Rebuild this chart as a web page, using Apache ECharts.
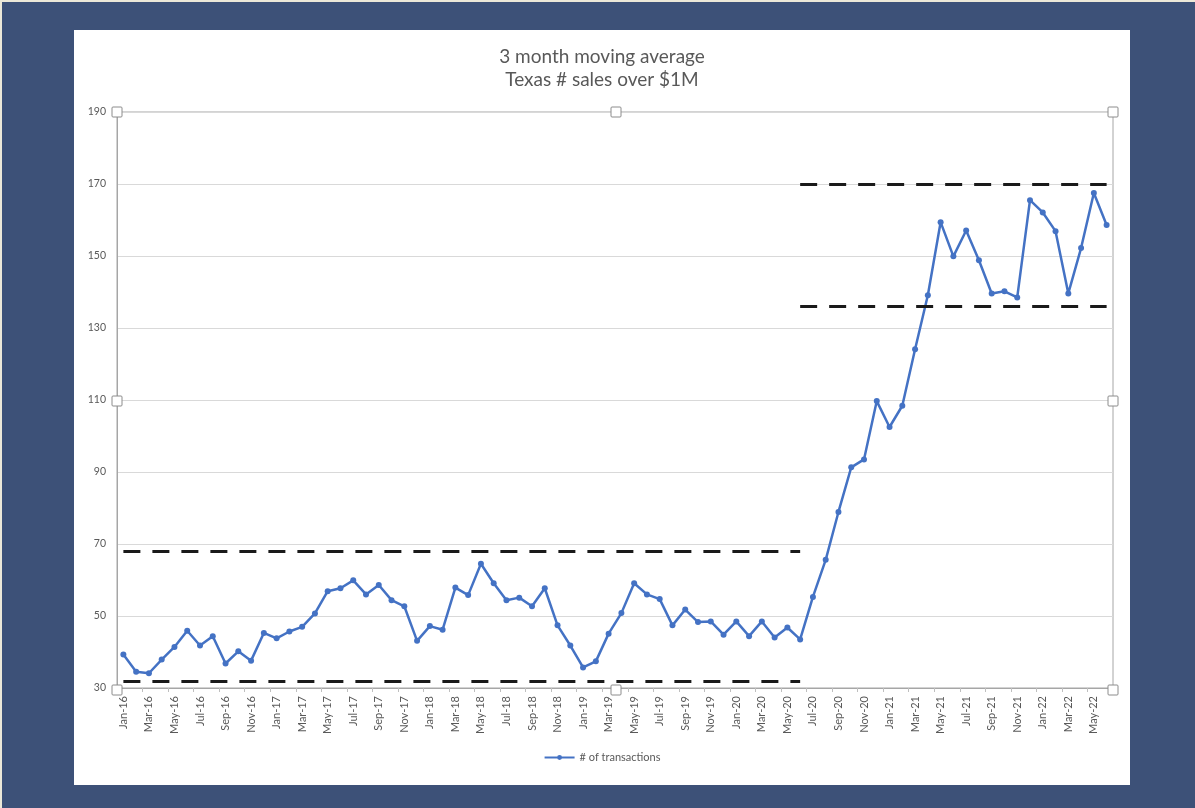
<!DOCTYPE html>
<html>
<head>
<meta charset="utf-8">
<title>3 month moving average</title>
<script src="https://cdn.jsdelivr.net/npm/echarts@6/dist/echarts.min.js"></script>
<style>
  html, body { margin: 0; padding: 0; }
  body {
    width: 1193px; height: 806px;
    background: #3d5178;
    border-top: 2px solid #ece8d8;
    border-left: 2px solid #ece8d8;
    position: relative; overflow: hidden;
  }
  #chart {
    position: absolute; left: 72px; top: 28px;
    width: 1056px; height: 755px;
    background: #fff;
  }
</style>
</head>
<body>
<div id="chart"></div>
<script>
// months Jan-16 .. Jun-22
var years = ['16', '17', '18', '19', '20', '21', '22'];
var monthNames = ['Jan', 'Feb', 'Mar', 'Apr', 'May', 'Jun', 'Jul', 'Aug', 'Sep', 'Oct', 'Nov', 'Dec'];
var categories = [];
years.forEach(function (y) {
  monthNames.forEach(function (m) {
    categories.push(m + '-' + y);
  });
});
categories = categories.slice(0, 78);

var transactions = [
  39.3, 34.5, 34.1, 37.9, 41.4, 45.9, 41.8, 44.4, 36.8, 40.2, 37.6, 45.3,   // 2016
  43.8, 45.7, 47.0, 50.7, 56.9, 57.7, 59.9, 56.0, 58.6, 54.4, 52.7, 43.1,   // 2017
  47.2, 46.2, 57.9, 55.8, 64.5, 59.1, 54.4, 55.1, 52.7, 57.7, 47.4, 41.8,   // 2018
  35.7, 37.4, 45.1, 50.8, 59.1, 56.0, 54.7, 47.4, 51.8, 48.3, 48.5, 44.8,   // 2019
  48.5, 44.4, 48.5, 44.0, 46.8, 43.5, 55.3, 65.6, 78.9, 91.3, 93.5, 109.7,  // 2020
  102.5, 108.4, 124.1, 139.1, 159.4, 149.9, 157.1, 148.8, 139.6, 140.2, 138.5, 165.5, // 2021
  162.1, 156.9, 139.6, 152.2, 167.5, 158.6                                  // 2022
];

// dashed band lines: [from, to, value]
var bandLines = [
  ['Jan-16', 'Jun-20', 68],
  ['Jan-16', 'Jun-20', 32],
  ['Jun-20', 'Jun-22', 170],
  ['Jun-20', 'Jun-22', 136]
];

var yTicks = [30, 50, 70, 90, 110, 130, 150, 170, 190];

var chart = echarts.init(document.getElementById('chart'));

// Excel-style selection handles on the plot area
var handleStyle = { fill: '#fff', stroke: '#8c8c8c', lineWidth: 1 };
function handle(x, y, s) {
  return { type: 'rect', shape: { x: x - s / 2, y: y - s / 2, width: s, height: s, r: 1 }, style: handleStyle, z: 100 };
}

var option = {
  backgroundColor: '#fff',
  textStyle: { fontFamily: 'Lato, "Open Sans", sans-serif' },
  title: {
    text: '3 month moving average\nTexas # sales over $1M',
    left: 'center',
    top: 10,
    textStyle: { fontSize: 19, fontWeight: 'normal', color: '#595959', lineHeight: 23, fontFamily: 'Lato, sans-serif' }
  },
  legend: {
    bottom: 17,
    left: 'center',
    itemWidth: 30,
    itemHeight: 6,
    itemGap: 4,
    textStyle: { fontSize: 11, color: '#595959' },
    data: ['# of transactions']
  },
  grid: { left: 43, top: 82, right: 17, bottom: 97, show: true, borderColor: '#a6a6a6', borderWidth: 1 },
  xAxis: {
    type: 'category',
    data: categories,
    boundaryGap: true,
    axisLine: { lineStyle: { color: '#a6a6a6' } },
    axisTick: { show: true, interval: 1, length: 4, lineStyle: { color: '#bfbfbf' } },
    axisLabel: { interval: 1, rotate: 90, fontSize: 11, color: '#595959', margin: 8 }
  },
  yAxis: {
    type: 'value',
    min: yTicks[0],
    max: yTicks[yTicks.length - 1],
    interval: 20,
    axisLine: { show: true, lineStyle: { color: '#a6a6a6' } },
    axisLabel: { fontSize: 10.5, color: '#595959', margin: 11 },
    splitLine: { lineStyle: { color: '#d9d9d9' } }
  },
  series: [{
    name: '# of transactions',
    type: 'line',
    data: transactions,
    symbol: 'circle',
    symbolSize: 6,
    color: '#4472c4',
    lineStyle: { width: 2.5, color: '#4472c4' },
    itemStyle: { color: '#4472c4' },
    markLine: {
      silent: true,
      symbol: 'none',
      label: { show: false },
      lineStyle: { color: '#1a1a1a', width: 3, type: [17, 12] },
      data: bandLines.map(function (b) {
        return [{ coord: [b[0], b[2]] }, { coord: [b[1], b[2]] }];
      })
    }
  }],
  graphic: [
    handle(43, 82, 10), handle(542, 82, 10), handle(1039, 82, 10),
    handle(43, 371, 10), handle(1039, 371, 10),
    handle(43, 660, 10), handle(542, 660, 10), handle(1039, 660, 10)
  ]
};

chart.setOption(option);
</script>
</body>
</html>
